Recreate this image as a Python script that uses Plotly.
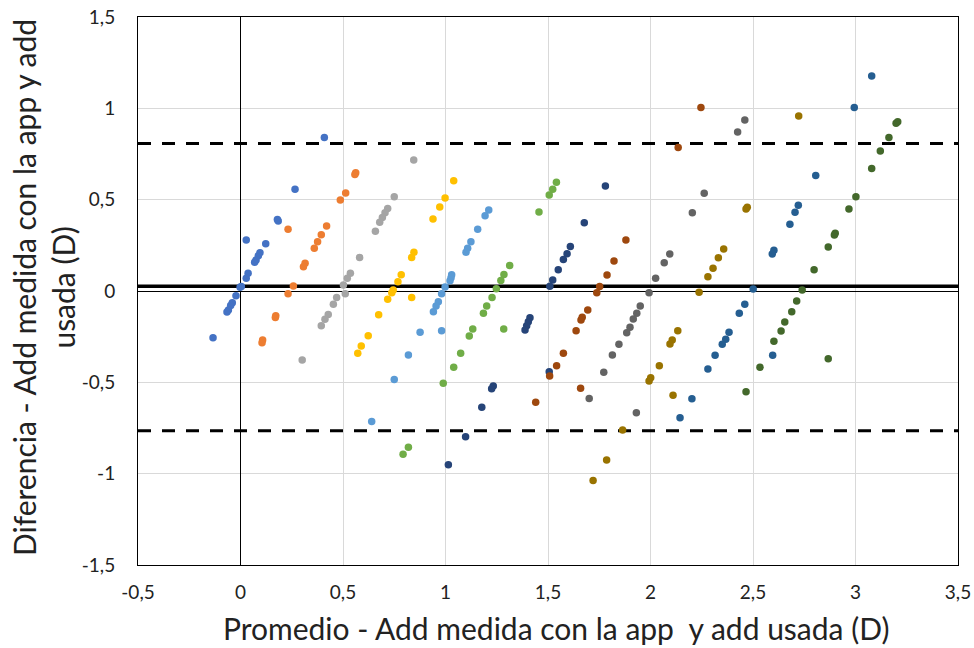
import plotly.graph_objects as go

# ---- data (mean, difference) per series ----
s1_x = [0.409, 0.266, 0.180, 0.184, 0.028, 0.123, 0.095, 0.087, 0.076, 0.069, 0.037, 0.028, 0.004, -0.002, -0.022, -0.040, -0.048, -0.059, -0.066, -0.134]
s1_y = [0.841, 0.557, 0.392, 0.383, 0.279, 0.259, 0.210, 0.193, 0.170, 0.157, 0.097, 0.070, 0.024, 0.020, -0.026, -0.064, -0.080, -0.104, -0.115, -0.256]

s2_x = [0.562, 0.558, 0.513, 0.487, 0.420, 0.394, 0.376, 0.360, 0.232, 0.315, 0.307, 0.258, 0.232, 0.172, 0.170, 0.108, 0.105]
s2_y = [0.648, 0.638, 0.536, 0.498, 0.356, 0.308, 0.270, 0.234, 0.338, 0.152, 0.133, 0.027, -0.015, -0.135, -0.145, -0.268, -0.283]

s3_x = [0.845, 0.750, 0.718, 0.705, 0.692, 0.679, 0.658, 0.581, 0.536, 0.521, 0.502, 0.511, 0.469, 0.453, 0.428, 0.412, 0.394, 0.301]
s3_y = [0.717, 0.516, 0.451, 0.429, 0.403, 0.376, 0.327, 0.184, 0.097, 0.070, 0.033, -0.015, -0.035, -0.073, -0.128, -0.155, -0.190, -0.378]

s4_x = [1.040, 0.998, 0.972, 0.939, 0.846, 0.835, 0.784, 0.768, 0.745, 0.738, 0.718, 0.835, 0.674, 0.623, 0.589, 0.572]
s4_y = [0.604, 0.509, 0.460, 0.394, 0.212, 0.184, 0.089, 0.051, 0.005, -0.010, -0.045, -0.035, -0.130, -0.245, -0.301, -0.341]

s5_x = [1.211, 1.193, 1.157, 1.124, 1.108, 1.100, 1.030, 1.027, 1.022, 0.998, 0.981, 0.965, 0.954, 0.941, 0.876, 0.981, 0.819, 0.750, 0.640]
s5_y = [0.443, 0.412, 0.338, 0.270, 0.234, 0.212, 0.089, 0.073, 0.056, 0.022, -0.015, -0.059, -0.082, -0.113, -0.226, -0.217, -0.350, -0.484, -0.715]

s6_x = [1.541, 1.523, 1.506, 1.456, 1.313, 1.285, 1.270, 1.248, 1.227, 1.201, 1.185, 1.133, 1.116, 1.284, 1.074, 1.040, 0.989, 0.819, 0.793]
s6_y = [0.595, 0.557, 0.526, 0.432, 0.139, 0.090, 0.058, 0.012, -0.035, -0.082, -0.122, -0.208, -0.246, -0.208, -0.341, -0.418, -0.505, -0.856, -0.894]

s7_x = [1.780, 1.677, 1.609, 1.593, 1.575, 1.550, 1.523, 1.509, 1.412, 1.404, 1.396, 1.388, 1.506, 1.233, 1.225, 1.177, 1.098, 1.014]
s7_y = [0.575, 0.374, 0.243, 0.204, 0.173, 0.117, 0.060, 0.026, -0.146, -0.168, -0.190, -0.213, -0.442, -0.520, -0.535, -0.637, -0.798, -0.951]

s8_x = [2.246, 2.135, 1.880, 1.822, 1.788, 1.752, 1.738, 1.694, 1.667, 1.661, 1.637, 1.575, 1.542, 1.508, 1.659, 1.440]
s8_y = [1.004, 0.786, 0.279, 0.164, 0.088, 0.024, -0.009, -0.104, -0.144, -0.159, -0.217, -0.341, -0.409, -0.465, -0.533, -0.609]

s9_x = [2.460, 2.425, 2.262, 2.204, 2.094, 2.067, 2.025, 1.993, 1.950, 1.933, 1.916, 1.900, 1.884, 1.846, 1.814, 1.772, 1.701, 1.931]
s9_y = [0.936, 0.870, 0.535, 0.429, 0.203, 0.155, 0.070, -0.009, -0.082, -0.122, -0.153, -0.199, -0.228, -0.292, -0.350, -0.445, -0.588, -0.666]

s10_x = [2.723, 2.472, 2.466, 2.357, 2.331, 2.305, 2.280, 2.237, 2.133, 2.106, 2.095, 2.043, 2.001, 1.993, 2.110, 1.864, 1.786, 1.720]
s10_y = [0.958, 0.458, 0.449, 0.230, 0.182, 0.124, 0.078, -0.007, -0.217, -0.268, -0.290, -0.409, -0.475, -0.493, -0.571, -0.761, -0.925, -1.038]

s11_x = [3.079, 2.994, 2.806, 2.721, 2.705, 2.680, 2.602, 2.594, 2.501, 2.460, 2.433, 2.383, 2.367, 2.350, 2.315, 2.280, 2.202, 2.144, 2.596]
s11_y = [1.177, 1.004, 0.632, 0.469, 0.431, 0.365, 0.223, 0.203, 0.011, -0.073, -0.122, -0.226, -0.264, -0.292, -0.352, -0.427, -0.590, -0.694, -0.352]

s12_x = [3.206, 3.198, 3.163, 3.121, 3.079, 3.002, 2.968, 2.901, 2.897, 2.867, 2.798, 2.740, 2.713, 2.689, 2.655, 2.637, 2.602, 2.534, 2.466, 2.867]
s12_y = [0.927, 0.918, 0.841, 0.766, 0.670, 0.516, 0.449, 0.316, 0.306, 0.241, 0.117, 0.005, -0.055, -0.113, -0.170, -0.219, -0.275, -0.418, -0.551, -0.371]

series_x = [s1_x, s2_x, s3_x, s4_x, s5_x, s6_x, s7_x, s8_x, s9_x, s10_x, s11_x, s12_x]
series_y = [s1_y, s2_y, s3_y, s4_y, s5_y, s6_y, s7_y, s8_y, s9_y, s10_y, s11_y, s12_y]
colors = ["#4472C4", "#ED7D31", "#A5A5A5", "#FFC000", "#5B9BD5", "#70AD47",
          "#264478", "#9E480E", "#636363", "#997300", "#255E91", "#43682B"]

mean_diff = 0.026
upper_loa = 0.808
lower_loa = -0.765

x_range = [-0.5, 3.5]
y_range = [-1.5, 1.5]
x_tickvals = [-0.5, 0, 0.5, 1, 1.5, 2, 2.5, 3, 3.5]
x_ticktext = ["-0,5", "0", "0,5", "1", "1,5", "2", "2,5", "3", "3,5"]
y_tickvals = [-1.5, -1, -0.5, 0, 0.5, 1, 1.5]
y_ticktext = ["-1,5", "-1", "-0,5", "0", "0,5", "1", "1,5"]

x_title = "Promedio - Add medida con la app  y add usada (D)"
y_title = "Diferencia - Add medida con la app y add<br>usada (D)"

FONT = "Lato"
TXT = "#222222"

fig = go.Figure()

# reference lines
fig.add_trace(go.Scatter(x=x_range, y=[mean_diff, mean_diff], mode="lines",
                         line=dict(color="black", width=3.5), hoverinfo="skip", showlegend=False))
for v in (upper_loa, lower_loa):
    fig.add_trace(go.Scatter(x=x_range, y=[v, v], mode="lines",
                             line=dict(color="black", width=3, dash="13px,11px"),
                             hoverinfo="skip", showlegend=False))

for xs, ys, c in zip(series_x, series_y, colors):
    fig.add_trace(go.Scatter(x=xs, y=ys, mode="markers",
                             marker=dict(color=c, size=7.5, line=dict(width=0)),
                             showlegend=False))

fig.update_layout(
    width=974, height=648,
    margin=dict(l=138, r=16, t=17, b=83, autoexpand=False),
    paper_bgcolor="white", plot_bgcolor="white",
    font=dict(family=FONT, color=TXT),
    showlegend=False,
)
fig.update_xaxes(range=x_range, tickvals=x_tickvals, ticktext=x_ticktext,
                 showgrid=True, gridcolor="#D9D9D9", gridwidth=1,
                 zeroline=True, zerolinecolor="black", zerolinewidth=1,
                 showline=True, linecolor="black", linewidth=1, mirror=True,
                 ticks="", tickfont=dict(size=19, family=FONT, color=TXT),
                 ticklabelstandoff=10, automargin=False)
fig.update_yaxes(range=y_range, tickvals=y_tickvals, ticktext=y_ticktext,
                 showgrid=True, gridcolor="#D9D9D9", gridwidth=1,
                 zeroline=True, zerolinecolor="black", zerolinewidth=1,
                 showline=True, linecolor="black", linewidth=1, mirror=True,
                 ticks="", tickfont=dict(size=19, family=FONT, color=TXT),
                 ticklabelstandoff=18, automargin=False)

fig.add_annotation(text=x_title, xref="paper", yref="paper", x=0.51, y=-0.115,
                   xanchor="center", yanchor="middle", showarrow=False,
                   font=dict(size=30, family=FONT, color=TXT))
fig.add_annotation(text=y_title, xref="paper", yref="paper", x=-0.1146, y=0.5055,
                   xanchor="center", yanchor="middle", showarrow=False, textangle=-90,
                   align="center", font=dict(size=30, family=FONT, color=TXT))

fig.write_html("out.html")
